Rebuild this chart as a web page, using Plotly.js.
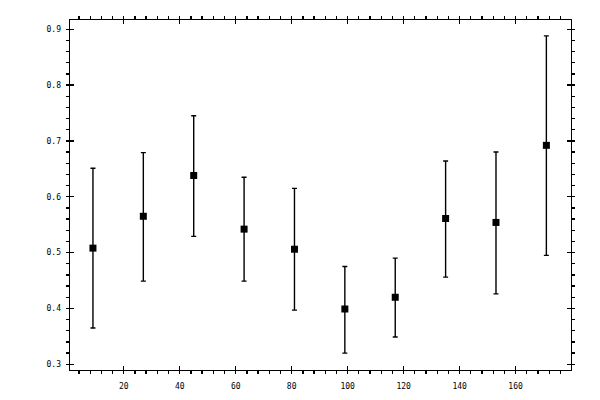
<!DOCTYPE html>
<html>
<head>
<meta charset="utf-8">
<script src="https://cdn.plot.ly/plotly-3.0.1.min.js"></script>
<style>
  html, body { margin: 0; padding: 0; background: #ffffff; }
  #chart { width: 600px; height: 400px; }
</style>
</head>
<body>
<div id="chart"></div>
<script>
  // values
  var xs = [9, 27, 45, 63, 81, 99, 117, 135, 153, 171];
  var ys = [0.508, 0.565, 0.638, 0.542, 0.506, 0.399, 0.420, 0.561, 0.554, 0.692];
  var upper = [0.651, 0.679, 0.745, 0.635, 0.615, 0.475, 0.490, 0.664, 0.680, 0.888];
  var lower = [0.365, 0.449, 0.529, 0.449, 0.397, 0.320, 0.349, 0.456, 0.426, 0.495];

  var plus = ys.map(function (y, i) { return upper[i] - y; });
  var minus = ys.map(function (y, i) { return y - lower[i]; });

  var tickFont = { family: '"DejaVu Sans Mono", monospace', size: 8, color: '#000000' };
  var xRange = [0.8, 179.8];
  var yRange = [0.2898, 0.9164];

  var trace = {
    type: 'scatter',
    mode: 'markers',
    x: xs,
    y: ys,
    marker: { symbol: 'square', size: 7, color: '#000000' },
    error_y: {
      type: 'data',
      symmetric: false,
      array: plus,
      arrayminus: minus,
      color: '#000000',
      thickness: 1.4,
      width: 2.5
    },
    hoverinfo: 'x+y'
  };
  // empty trace so the overlay axes get drawn
  var holder = { type: 'scatter', mode: 'markers', x: [], y: [], xaxis: 'x2', yaxis: 'y2', hoverinfo: 'skip' };

  // outer axes carry labels, outside ticks and minor ticks
  function outerAxis(range, dtick, minorDtick) {
    return {
      range: range,
      tick0: 0,
      dtick: dtick,
      ticks: 'outside',
      ticklen: 3,
      tickwidth: 1.3,
      tickcolor: '#000000',
      minor: { dtick: minorDtick, tick0: 0, ticks: 'outside', ticklen: 3, tickwidth: 1.3, tickcolor: '#000000' },
      mirror: 'allticks',
      showline: true,
      linecolor: '#000000',
      linewidth: 1.4,
      showgrid: false,
      zeroline: false,
      tickfont: tickFont
    };
  }

  // overlay axes only add the inside part of the major ticks
  function innerAxis(range, dtick, over, anchor) {
    return {
      overlaying: over,
      anchor: anchor,
      range: range,
      tick0: 0,
      dtick: dtick,
      ticks: 'inside',
      ticklen: 4,
      tickwidth: 1.3,
      tickcolor: '#000000',
      mirror: 'allticks',
      showline: false,
      showgrid: false,
      zeroline: false,
      showticklabels: false
    };
  }

  var layout = {
    width: 600,
    height: 400,
    margin: { l: 69.5, r: 29, t: 19.5, b: 30 },
    paper_bgcolor: '#ffffff',
    plot_bgcolor: '#ffffff',
    showlegend: false,
    xaxis: Object.assign(outerAxis(xRange, 20, 4), { ticklabelstandoff: 5 }),
    yaxis: Object.assign(outerAxis(yRange, 0.1, 0.02), { ticklabelstandoff: 3, tickformat: '.1f' }),
    xaxis2: innerAxis(xRange, 20, 'x', 'y2'),
    yaxis2: innerAxis(yRange, 0.1, 'y', 'x2')
  };

  Plotly.newPlot('chart', [trace, holder], layout, { displayModeBar: false, staticPlot: true });
</script>
</body>
</html>
